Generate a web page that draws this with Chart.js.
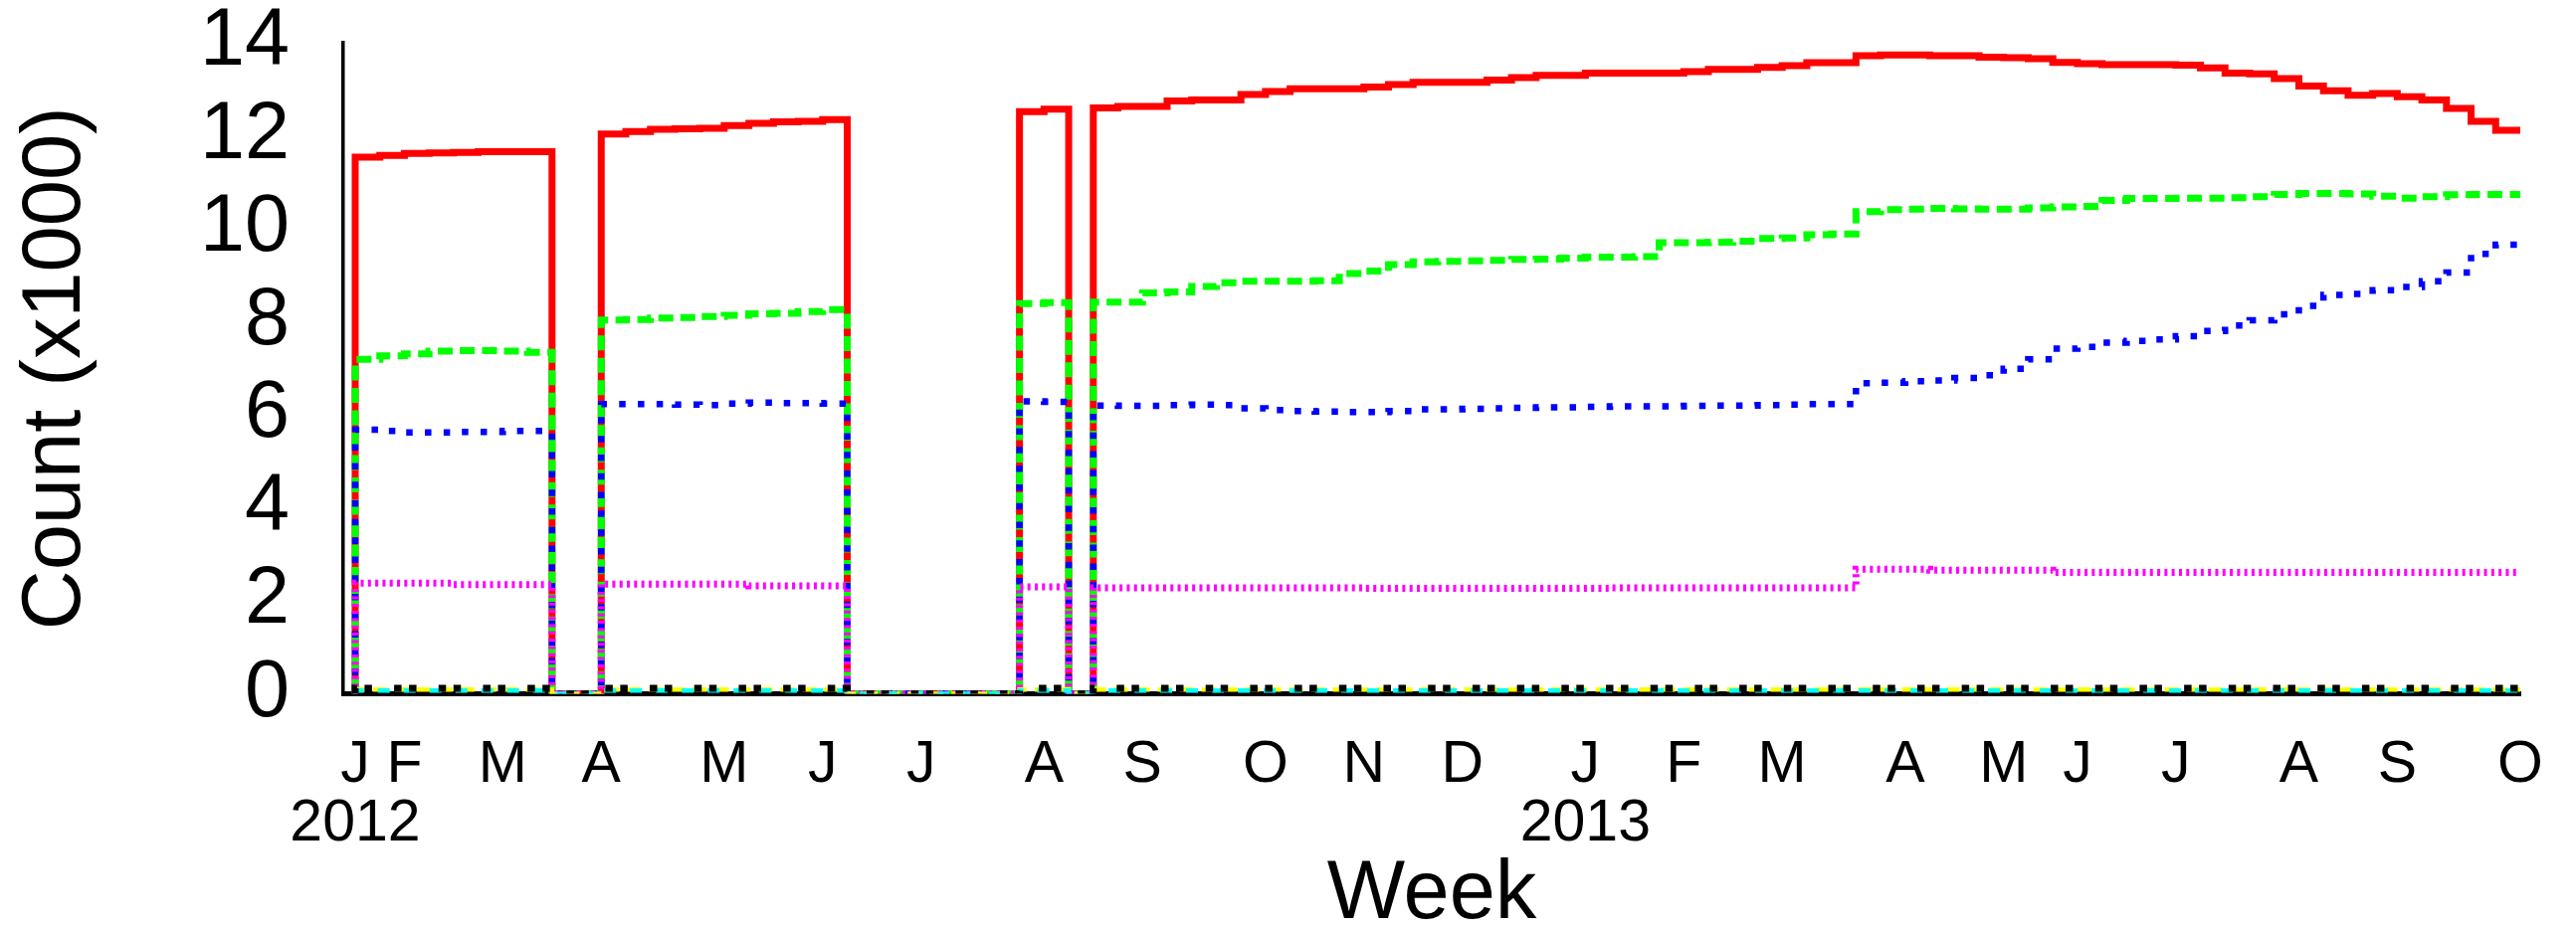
<!DOCTYPE html>
<html><head><meta charset="utf-8">
<script src="https://cdn.jsdelivr.net/npm/chart.js@4/dist/chart.umd.min.js"></script>
<style>html,body{margin:0;padding:0;background:#fff;}canvas{display:block;}</style>
</head><body>
<canvas id="c" width="2589" height="938"></canvas>
<script>
// Weekly values (x1000), week 0 = first week of the series; 0 = no data that week
const redValues = [11.54, 11.58, 11.62, 11.63, 11.64, 11.66, 11.66, 11.66, 0, 0,
 12.04, 12.09, 12.14, 12.15, 12.16, 12.22, 12.27, 12.30, 12.31, 12.35,
 0, 0, 0, 0, 0, 0, 0, 12.52, 12.57, 0,
 12.60, 12.63, 12.63, 12.75, 12.77, 12.77, 12.89, 12.95, 13.01, 13.01,
 13.01, 13.05, 13.10, 13.15, 13.15, 13.15, 13.20, 13.25, 13.30, 13.30,
 13.35, 13.35, 13.35, 13.35, 13.38, 13.43, 13.43, 13.47, 13.51, 13.57,
 13.57, 13.72, 13.74, 13.74, 13.72, 13.72, 13.69, 13.68, 13.66, 13.58,
 13.55, 13.53, 13.53, 13.53, 13.52, 13.46, 13.35, 13.33, 13.23, 13.07,
 12.97, 12.87, 12.91, 12.84, 12.77, 12.59, 12.31, 12.12];

const greenValues = [7.19, 7.27, 7.31, 7.37, 7.38, 7.38, 7.37, 7.34, 0, 0,
 8.04, 8.05, 8.08, 8.09, 8.11, 8.14, 8.17, 8.18, 8.22, 8.26,
 0, 0, 0, 0, 0, 0, 0, 8.39, 8.41, 0,
 8.42, 8.42, 8.62, 8.64, 8.76, 8.84, 8.87, 8.87, 8.87, 8.88,
 9.04, 9.09, 9.23, 9.29, 9.30, 9.31, 9.32, 9.34, 9.35, 9.37,
 9.39, 9.39, 9.40, 9.70, 9.70, 9.71, 9.73, 9.79, 9.80, 9.87,
 9.89, 10.37, 10.41, 10.42, 10.44, 10.43, 10.42, 10.42, 10.45, 10.47,
 10.48, 10.61, 10.65, 10.65, 10.66, 10.66, 10.67, 10.69, 10.74, 10.76,
 10.76, 10.75, 10.70, 10.66, 10.69, 10.73, 10.74, 10.74];

const blueValues = [5.68, 5.65, 5.62, 5.62, 5.63, 5.63, 5.65, 5.65, 0, 0,
 6.23, 6.23, 6.23, 6.22, 6.21, 6.24, 6.26, 6.25, 6.25, 6.24,
 0, 0, 0, 0, 0, 0, 0, 6.29, 6.28, 0,
 6.20, 6.19, 6.19, 6.21, 6.22, 6.21, 6.14, 6.10, 6.08, 6.07,
 6.06, 6.06, 6.08, 6.12, 6.12, 6.13, 6.14, 6.15, 6.16, 6.16,
 6.17, 6.18, 6.18, 6.18, 6.19, 6.20, 6.20, 6.21, 6.22, 6.23,
 6.23, 6.68, 6.69, 6.72, 6.74, 6.79, 6.85, 6.99, 7.19, 7.42,
 7.46, 7.55, 7.59, 7.62, 7.69, 7.80, 7.92, 8.03, 8.16, 8.34,
 8.58, 8.60, 8.68, 8.75, 8.87, 9.06, 9.46, 9.66];

const magentaValues = [2.38, 2.38, 2.38, 2.38, 2.35, 2.35, 2.35, 2.35, 0, 0,
 2.36, 2.36, 2.36, 2.36, 2.36, 2.36, 2.32, 2.32, 2.32, 2.32,
 0, 0, 0, 0, 0, 0, 0, 2.30, 2.30, 0,
 2.28, 2.28, 2.28, 2.28, 2.28, 2.28, 2.28, 2.28, 2.28, 2.28,
 2.28, 2.27, 2.27, 2.27, 2.27, 2.27, 2.27, 2.27, 2.27, 2.27,
 2.27, 2.28, 2.28, 2.28, 2.28, 2.28, 2.28, 2.28, 2.28, 2.28,
 2.28, 2.68, 2.68, 2.68, 2.66, 2.66, 2.66, 2.66, 2.66, 2.61,
 2.61, 2.61, 2.61, 2.61, 2.61, 2.61, 2.61, 2.61, 2.61, 2.61,
 2.61, 2.61, 2.61, 2.61, 2.61, 2.61, 2.61, 2.61];

const blackValues = [0.12, 0.12, 0.12, 0.12, 0.12, 0.12, 0.12, 0.12, 0, 0,
 0.12, 0.12, 0.12, 0.12, 0.12, 0.12, 0.12, 0.12, 0.12, 0.12,
 0, 0, 0, 0, 0, 0, 0, 0.12, 0.12, 0,
 0.12, 0.12, 0.12, 0.12, 0.12, 0.12, 0.12, 0.12, 0.12, 0.12,
 0.12, 0.12, 0.12, 0.12, 0.12, 0.12, 0.12, 0.12, 0.12, 0.12,
 0.12, 0.12, 0.12, 0.12, 0.12, 0.12, 0.12, 0.12, 0.12, 0.12,
 0.12, 0.12, 0.12, 0.12, 0.12, 0.12, 0.12, 0.12, 0.12, 0.12,
 0.12, 0.12, 0.12, 0.12, 0.12, 0.12, 0.12, 0.12, 0.12, 0.12,
 0.12, 0.12, 0.12, 0.12, 0.12, 0.12, 0.12, 0.12];

const yellowValues = [0.09, 0.09, 0.09, 0.09, 0.09, 0.09, 0.09, 0.09, 0, 0,
 0.09, 0.09, 0.09, 0.09, 0.09, 0.09, 0.09, 0.09, 0.09, 0.09,
 0, 0, 0, 0, 0, 0, 0, 0.09, 0.09, 0,
 0.09, 0.09, 0.09, 0.09, 0.09, 0.09, 0.09, 0.09, 0.09, 0.09,
 0.09, 0.09, 0.09, 0.09, 0.09, 0.09, 0.09, 0.09, 0.09, 0.09,
 0.09, 0.09, 0.09, 0.09, 0.09, 0.09, 0.09, 0.09, 0.09, 0.09,
 0.09, 0.09, 0.09, 0.09, 0.09, 0.09, 0.09, 0.09, 0.09, 0.09,
 0.09, 0.09, 0.09, 0.09, 0.09, 0.09, 0.09, 0.09, 0.09, 0.09,
 0.09, 0.09, 0.09, 0.09, 0.09, 0.09, 0.09, 0.09];

const cyanValues = [0.07, 0.07, 0.07, 0.07, 0.07, 0.07, 0.07, 0.07, 0, 0,
 0.07, 0.07, 0.07, 0.07, 0.07, 0.07, 0.07, 0.07, 0.07, 0.07,
 0, 0, 0, 0, 0, 0, 0, 0.07, 0.07, 0,
 0.07, 0.07, 0.07, 0.07, 0.07, 0.07, 0.07, 0.07, 0.07, 0.07,
 0.07, 0.07, 0.07, 0.07, 0.07, 0.07, 0.07, 0.07, 0.07, 0.07,
 0.07, 0.07, 0.07, 0.07, 0.07, 0.07, 0.07, 0.07, 0.07, 0.07,
 0.07, 0.07, 0.07, 0.07, 0.07, 0.07, 0.07, 0.07, 0.07, 0.07,
 0.07, 0.07, 0.07, 0.07, 0.07, 0.07, 0.07, 0.07, 0.07, 0.07,
 0.07, 0.07, 0.07, 0.07, 0.07, 0.07, 0.07, 0.07];

// x-axis ticks: week index at which each month starts
const monthWeeks  = [0, 2, 6, 10, 15, 19, 23, 28, 32, 37, 41, 45, 50, 54, 58, 63, 67, 70, 74, 79, 83, 88];
const monthLabels = ['J','F','M','A','M','J','J','A','S','O','N','D','J','F','M','A','M','J','J','A','S','O'];
const yearTickIndex = [0, 12];
const yearLabels = ['2012', '2013'];
const yTicks = [0, 2, 4, 6, 8, 10, 12, 14];

const FONT = "'Liberation Sans', Arial, Helvetica, sans-serif";

function toSteps(values) {
  const pts = [{x: 0, y: 0}];
  values.forEach((v, i) => pts.push({x: i, y: v}));
  pts.push({x: values.length, y: values[values.length - 1]});
  return pts;
}
function ds(label, values, color, width, dash, order) {
  return {
    label, data: toSteps(values), borderColor: color, backgroundColor: color,
    borderWidth: width, borderDash: dash, stepped: 'before', pointRadius: 0,
    pointHoverRadius: 0, fill: false, tension: 0, order,
    borderCapStyle: 'butt', borderJoinStyle: 'miter'
  };
}

new Chart(document.getElementById('c'), {
  type: 'line',
  data: {
    datasets: [
      ds('red', redValues, '#ff0000', 7, [], 7),
      ds('green', greenValues, '#00ff00', 7, [15, 7.5], 6),
      ds('blue', blueValues, '#0000ff', 6.5, [6.5, 12.3], 5),
      ds('magenta', magentaValues, '#ff00ff', 7, [3, 4.3], 4),
      ds('yellow', yellowValues, '#ffff00', 4.5, [14, 8], 3),
      ds('cyan', cyanValues, '#00ffff', 4.5, [12, 14], 2),
      ds('black', blackValues, '#000000', 7, [7.5, 7.5, 7.5, 22.2], 1)
    ]
  },
  options: {
    responsive: false,
    animation: false,
    devicePixelRatio: 1,
    layout: {padding: {top: 43, right: 56, bottom: 0, left: 0}},
    plugins: {legend: {display: false}, tooltip: {enabled: false}},
    scales: {
      x: {
        type: 'linear', min: -0.485, max: 88,
        afterBuildTicks: (scale) => { scale.ticks = monthWeeks.map(w => ({value: w})); },
        afterFit: (scale) => { scale.height = 240.5; },
        grid: {display: false, drawTicks: true, tickLength: 41},
        border: {display: true, color: '#000', width: 5},
        ticks: {
          autoSkip: false, maxRotation: 0, minRotation: 0, padding: 2, color: '#000',
          font: {family: FONT, size: 59, lineHeight: 1.0},
          callback: (value, index) => {
            const yi = yearTickIndex.indexOf(index);
            return yi >= 0 ? [monthLabels[index], yearLabels[yi]] : monthLabels[index];
          }
        },
        title: {display: true, text: 'Week', color: '#000',
          font: {family: FONT, size: 83, lineHeight: 0.9}, padding: {top: 0, bottom: 1}}
      },
      y: {
        type: 'linear', min: 0, max: 14,
        afterBuildTicks: (scale) => { scale.ticks = yTicks.map(v => ({value: v})); },
        afterFit: (scale) => { scale.width = 345; },
        grid: {display: false, drawTicks: true, tickLength: 52},
        border: {display: true, color: '#000', width: 3.5},
        ticks: {padding: 2, color: '#000', font: {family: FONT, size: 81, lineHeight: 1.0}},
        title: {display: true, text: 'Count (x1000)', color: '#000',
          font: {family: FONT, size: 83, lineHeight: 1.0}, padding: {top: 15.5, bottom: 0}}
      }
    }
  }
});
</script>
</body></html>
